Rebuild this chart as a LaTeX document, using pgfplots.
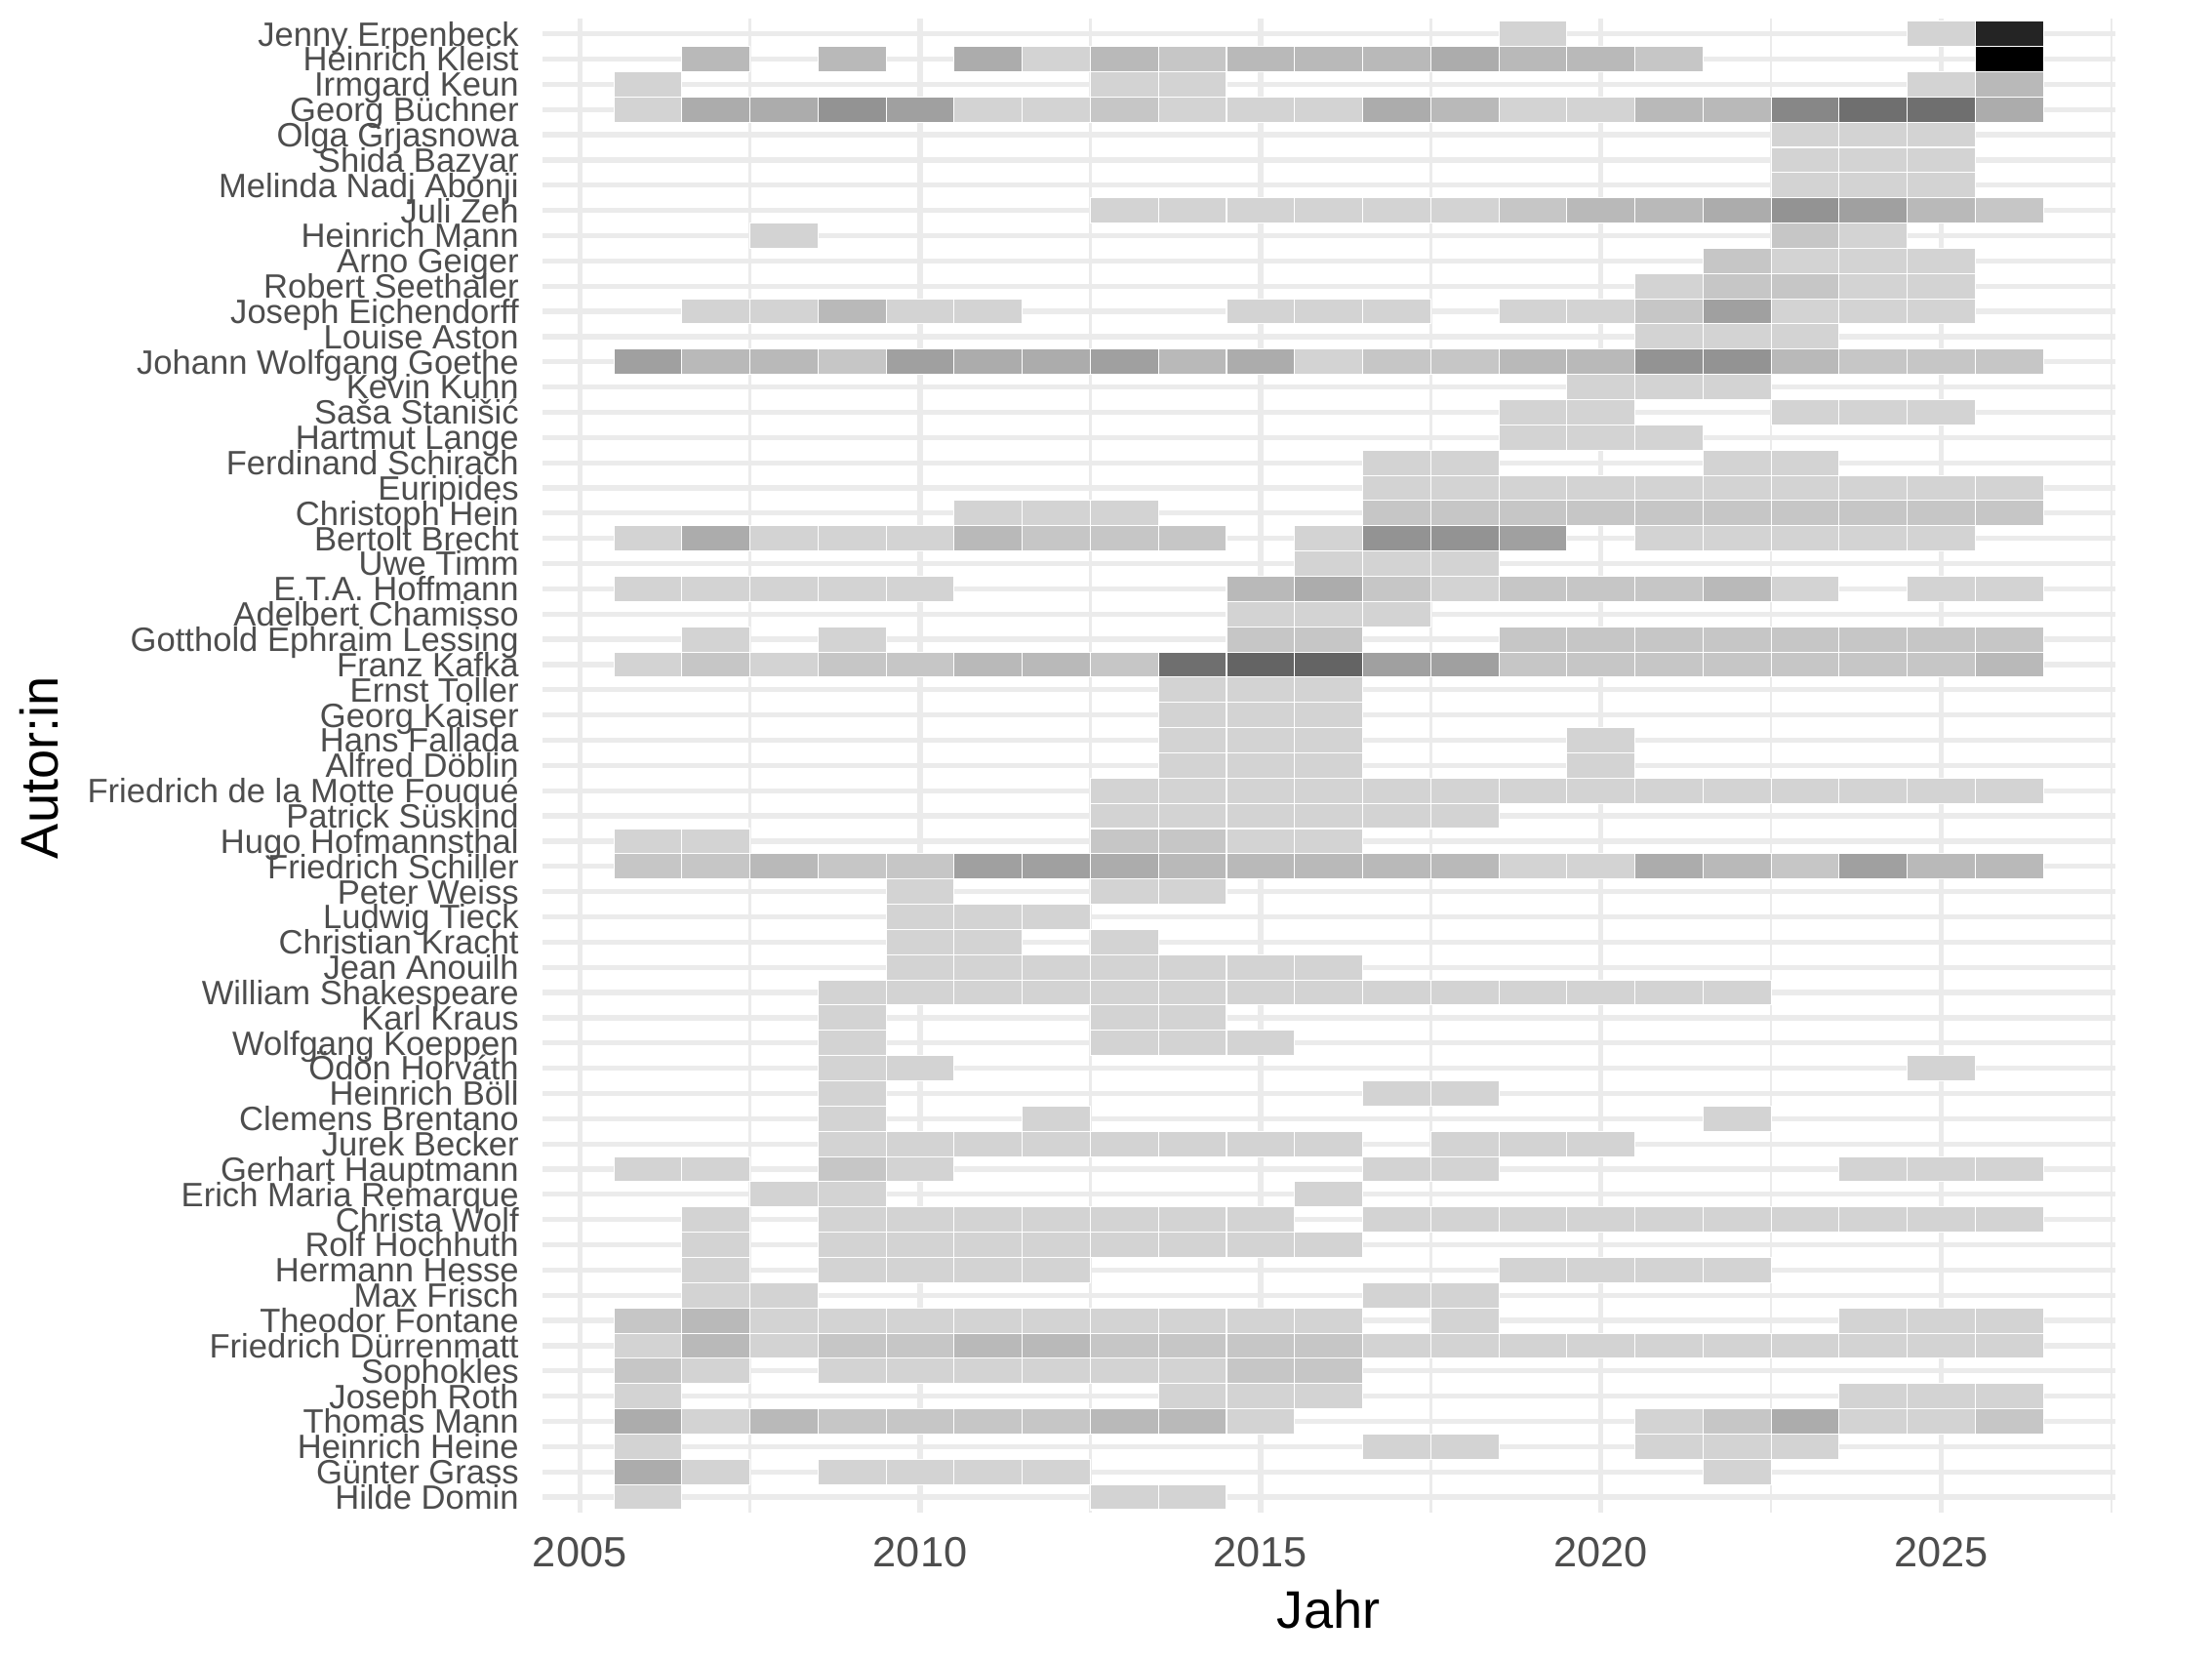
\documentclass[border=0pt]{standalone}
\usepackage{fontspec}
\setmainfont{Liberation Sans}
\usepackage{pgfplots}
\pgfplotsset{compat=1.18}
\usepackage{pgfplotstable}
\definecolor{g30}{HTML}{4D4D4D}
\definecolor{g92}{HTML}{EBEBEB}
\pgfdeclareplotmark{cell}{%
  \pgfpathrectangle{\pgfqpoint{-8.372pt}{-3.102pt}}{\pgfqpoint{16.745pt}{6.204pt}}%
  \pgfusepathqfillstroke}
% x = Jahr, y = Autor:in (1 = Hilde Domin ... 59 = Jenny Erpenbeck), c = Anzahl
\pgfplotstableread{
x y c
2019 59 1
2025 59 1
2026 59 16
2007 58 3
2009 58 3
2011 58 4
2012 58 1
2013 58 3
2014 58 2
2015 58 3
2016 58 3
2017 58 3
2018 58 4
2019 58 3
2020 58 3
2021 58 2
2026 58 19
2006 57 1
2013 57 1
2014 57 1
2025 57 1
2026 57 3
2006 56 1
2007 56 4
2008 56 4
2009 56 6
2010 56 5
2011 56 1
2012 56 1
2013 56 2
2014 56 1
2015 56 1
2016 56 1
2017 56 4
2018 56 3
2019 56 1
2020 56 1
2021 56 3
2022 56 3
2023 56 7
2024 56 9
2025 56 9
2026 56 4
2023 55 1
2024 55 1
2025 55 1
2023 54 1
2024 54 1
2025 54 1
2023 53 1
2024 53 1
2025 53 1
2013 52 1
2014 52 1
2015 52 1
2016 52 1
2017 52 1
2018 52 1
2019 52 2
2020 52 3
2021 52 3
2022 52 4
2023 52 6
2024 52 5
2025 52 3
2026 52 2
2008 51 1
2023 51 2
2024 51 1
2022 50 2
2023 50 1
2024 50 1
2025 50 1
2021 49 1
2022 49 2
2023 49 2
2024 49 1
2025 49 1
2007 48 1
2008 48 1
2009 48 3
2010 48 1
2011 48 1
2015 48 1
2016 48 1
2017 48 1
2019 48 1
2020 48 1
2021 48 2
2022 48 5
2023 48 1
2024 48 1
2025 48 1
2021 47 1
2022 47 1
2023 47 1
2006 46 5
2007 46 3
2008 46 3
2009 46 2
2010 46 5
2011 46 4
2012 46 4
2013 46 5
2014 46 3
2015 46 4
2016 46 1
2017 46 2
2018 46 2
2019 46 3
2020 46 3
2021 46 6
2022 46 6
2023 46 3
2024 46 2
2025 46 2
2026 46 2
2020 45 1
2021 45 1
2022 45 1
2019 44 1
2020 44 1
2023 44 1
2024 44 1
2025 44 1
2019 43 1
2020 43 1
2021 43 1
2017 42 1
2018 42 1
2022 42 1
2023 42 1
2017 41 1
2018 41 1
2019 41 1
2020 41 1
2021 41 1
2022 41 1
2023 41 1
2024 41 1
2025 41 1
2026 41 1
2011 40 1
2012 40 1
2013 40 1
2017 40 2
2018 40 2
2019 40 2
2020 40 2
2021 40 2
2022 40 2
2023 40 2
2024 40 2
2025 40 2
2026 40 2
2006 39 1
2007 39 4
2008 39 1
2009 39 1
2010 39 1
2011 39 3
2012 39 2
2013 39 2
2014 39 2
2016 39 1
2017 39 6
2018 39 6
2019 39 5
2021 39 1
2022 39 1
2023 39 1
2024 39 1
2025 39 1
2016 38 1
2017 38 1
2018 38 1
2006 37 1
2007 37 1
2008 37 1
2009 37 1
2010 37 1
2015 37 3
2016 37 4
2017 37 2
2018 37 1
2019 37 2
2020 37 2
2021 37 2
2022 37 3
2023 37 1
2025 37 1
2026 37 1
2015 36 1
2016 36 1
2017 36 1
2007 35 1
2009 35 1
2015 35 2
2016 35 2
2019 35 2
2020 35 2
2021 35 2
2022 35 2
2023 35 2
2024 35 2
2025 35 2
2026 35 2
2006 34 1
2007 34 2
2008 34 1
2009 34 2
2010 34 2
2011 34 3
2012 34 3
2013 34 2
2014 34 9
2015 34 10
2016 34 10
2017 34 5
2018 34 5
2019 34 2
2020 34 2
2021 34 2
2022 34 2
2023 34 2
2024 34 2
2025 34 2
2026 34 3
2014 33 1
2015 33 1
2016 33 1
2014 32 1
2015 32 1
2016 32 1
2014 31 1
2015 31 1
2016 31 1
2020 31 1
2014 30 1
2015 30 1
2016 30 1
2020 30 1
2013 29 1
2014 29 1
2015 29 1
2016 29 1
2017 29 1
2018 29 1
2019 29 1
2020 29 1
2021 29 1
2022 29 1
2023 29 1
2024 29 1
2025 29 1
2026 29 1
2013 28 1
2014 28 1
2015 28 1
2016 28 1
2017 28 1
2018 28 1
2006 27 1
2007 27 1
2013 27 2
2014 27 2
2015 27 1
2016 27 1
2006 26 2
2007 26 2
2008 26 3
2009 26 2
2010 26 2
2011 26 5
2012 26 5
2013 26 4
2014 26 3
2015 26 3
2016 26 3
2017 26 3
2018 26 3
2019 26 1
2020 26 1
2021 26 4
2022 26 3
2023 26 2
2024 26 5
2025 26 3
2026 26 3
2010 25 1
2013 25 1
2014 25 1
2010 24 1
2011 24 1
2012 24 1
2010 23 1
2011 23 1
2013 23 1
2010 22 1
2011 22 1
2012 22 1
2013 22 1
2014 22 1
2015 22 1
2016 22 1
2009 21 1
2010 21 1
2011 21 1
2012 21 1
2013 21 1
2014 21 1
2015 21 1
2016 21 1
2017 21 1
2018 21 1
2019 21 1
2020 21 1
2021 21 1
2022 21 1
2009 20 1
2013 20 1
2014 20 1
2009 19 1
2013 19 1
2014 19 1
2015 19 1
2009 18 1
2010 18 1
2025 18 1
2009 17 1
2017 17 1
2018 17 1
2009 16 1
2012 16 1
2022 16 1
2009 15 1
2010 15 1
2011 15 1
2012 15 1
2013 15 1
2014 15 1
2015 15 1
2016 15 1
2018 15 1
2019 15 1
2020 15 1
2006 14 1
2007 14 1
2009 14 2
2010 14 1
2017 14 1
2018 14 1
2024 14 1
2025 14 1
2026 14 1
2008 13 1
2009 13 1
2016 13 1
2007 12 1
2009 12 1
2010 12 1
2011 12 1
2012 12 1
2013 12 1
2014 12 1
2015 12 1
2017 12 1
2018 12 1
2019 12 1
2020 12 1
2021 12 1
2022 12 1
2023 12 1
2024 12 1
2025 12 1
2026 12 1
2007 11 1
2009 11 1
2010 11 1
2011 11 1
2012 11 1
2013 11 1
2014 11 1
2015 11 1
2016 11 1
2007 10 1
2009 10 1
2010 10 1
2011 10 1
2012 10 1
2019 10 1
2020 10 1
2021 10 1
2022 10 1
2007 9 1
2008 9 1
2017 9 1
2018 9 1
2006 8 2
2007 8 3
2008 8 1
2009 8 1
2010 8 1
2011 8 1
2012 8 1
2013 8 1
2014 8 1
2015 8 1
2016 8 1
2018 8 1
2024 8 1
2025 8 1
2026 8 1
2006 7 1
2007 7 3
2008 7 1
2009 7 2
2010 7 2
2011 7 3
2012 7 3
2013 7 2
2014 7 2
2015 7 2
2016 7 2
2017 7 1
2018 7 1
2019 7 1
2020 7 1
2021 7 1
2022 7 1
2023 7 1
2024 7 1
2025 7 1
2026 7 1
2006 6 2
2007 6 1
2009 6 1
2010 6 1
2011 6 1
2012 6 1
2013 6 1
2014 6 1
2015 6 2
2016 6 2
2006 5 1
2014 5 1
2015 5 1
2016 5 1
2024 5 1
2025 5 1
2026 5 1
2006 4 4
2007 4 1
2008 4 3
2009 4 2
2010 4 2
2011 4 2
2012 4 2
2013 4 3
2014 4 3
2015 4 1
2021 4 1
2022 4 2
2023 4 4
2024 4 1
2025 4 1
2026 4 2
2006 3 1
2017 3 1
2018 3 1
2021 3 1
2022 3 1
2023 3 1
2006 2 4
2007 2 1
2009 2 1
2010 2 1
2011 2 1
2012 2 1
2022 2 1
2006 1 1
2013 1 1
2014 1 1
}\tiles

\begin{document}
\begin{tikzpicture}
\path[use as bounding box] (0,0) rectangle (544.08pt,408pt);
\begin{axis}[
  at={(133.4pt,36.1pt)}, anchor=south west,
  scale only axis, width=386.8pt, height=367.3pt,
  xmin=2004.45, xmax=2027.55, ymin=0.4, ymax=59.6,
  axis line style={draw=none},
  major tick length=0pt, minor tick length=0pt,
  tick style={draw=none},
  xtick={2005,2010,2015,2020,2025},
  minor xtick={2007.5,2012.5,2017.5,2022.5,2027.5},
  ytick={1,...,59},
  yticklabels={Hilde Domin, Günter Grass, Heinrich Heine, Thomas Mann, Joseph Roth, Sophokles, Friedrich Dürrenmatt, Theodor Fontane, Max Frisch, Hermann Hesse, Rolf Hochhuth, Christa Wolf, Erich Maria Remarque, Gerhart Hauptmann, Jurek Becker, Clemens Brentano, Heinrich Böll, Ödön Horváth, Wolfgang Koeppen, Karl Kraus, William Shakespeare, Jean Anouilh, Christian Kracht, Ludwig Tieck, Peter Weiss, Friedrich Schiller, Hugo Hofmannsthal, Patrick Süskind, Friedrich de la Motte Fouqué, Alfred Döblin, Hans Fallada, Georg Kaiser, Ernst Toller, Franz Kafka, Gotthold Ephraim Lessing, Adelbert Chamisso, E.T.A. Hoffmann, Uwe Timm, Bertolt Brecht, Christoph Hein, Euripides, Ferdinand Schirach, Hartmut Lange, Saša Stanišić, Kevin Kuhn, Johann Wolfgang Goethe, Louise Aston, Joseph Eichendorff, Robert Seethaler, Arno Geiger, Heinrich Mann, Juli Zeh, Melinda Nadj Abonji, Shida Bazyar, Olga Grjasnowa, Georg Büchner, Irmgard Keun, Heinrich Kleist, Jenny Erpenbeck},
  xmajorgrids, xminorgrids, ymajorgrids,
  major grid style={g92, line width=1.26pt},
  minor grid style={g92, line width=0.63pt},
  /pgf/number format/1000 sep={},
  /pgf/number format/assume math mode=true,
  xticklabel style={font=\fontsize{10.4}{12}\selectfont, text=g30, anchor=base, inner sep=0pt, yshift=-13.4pt},
  yticklabel style={font=\fontsize{8.3}{9}\selectfont, text=g30, anchor=base east, inner sep=0pt, xshift=-5.6pt, yshift=-2.97pt},
  xlabel={Jahr}, ylabel={Autor:in},
  label style={font=\fontsize{13}{15}\selectfont, inner sep=0pt},
  xlabel style={at={(axis description cs:0.5,0)}, anchor=base, yshift=-28.5pt},
  ylabel style={at={(axis description cs:-0.3077,0.4985)}, anchor=base},
  colormap={ggrey}{rgb255(0cm)=(211,211,211) rgb255(1cm)=(198,198,198) rgb255(2cm)=(185,185,185) rgb255(3cm)=(172,172,172) rgb255(4cm)=(160,160,160) rgb255(5cm)=(147,147,147) rgb255(6cm)=(135,135,135) rgb255(7cm)=(123,123,123) rgb255(8cm)=(111,111,111) rgb255(9cm)=(100,100,100) rgb255(10cm)=(88,88,88) rgb255(11cm)=(77,77,77) rgb255(12cm)=(66,66,66) rgb255(13cm)=(56,56,56) rgb255(14cm)=(46,46,46) rgb255(15cm)=(36,36,36) rgb255(16cm)=(26,26,26) rgb255(17cm)=(16,16,16) rgb255(18cm)=(0,0,0)},
  point meta min=1, point meta max=19,
]
\addplot[scatter, only marks, mark=cell, mark options={line width=0.25pt},
  point meta=explicit,
  scatter/use mapped color={draw=white, fill=mapped color}]
  table[x=x, y=y, meta=c] {\tiles};
\end{axis}
\end{tikzpicture}
\end{document}
